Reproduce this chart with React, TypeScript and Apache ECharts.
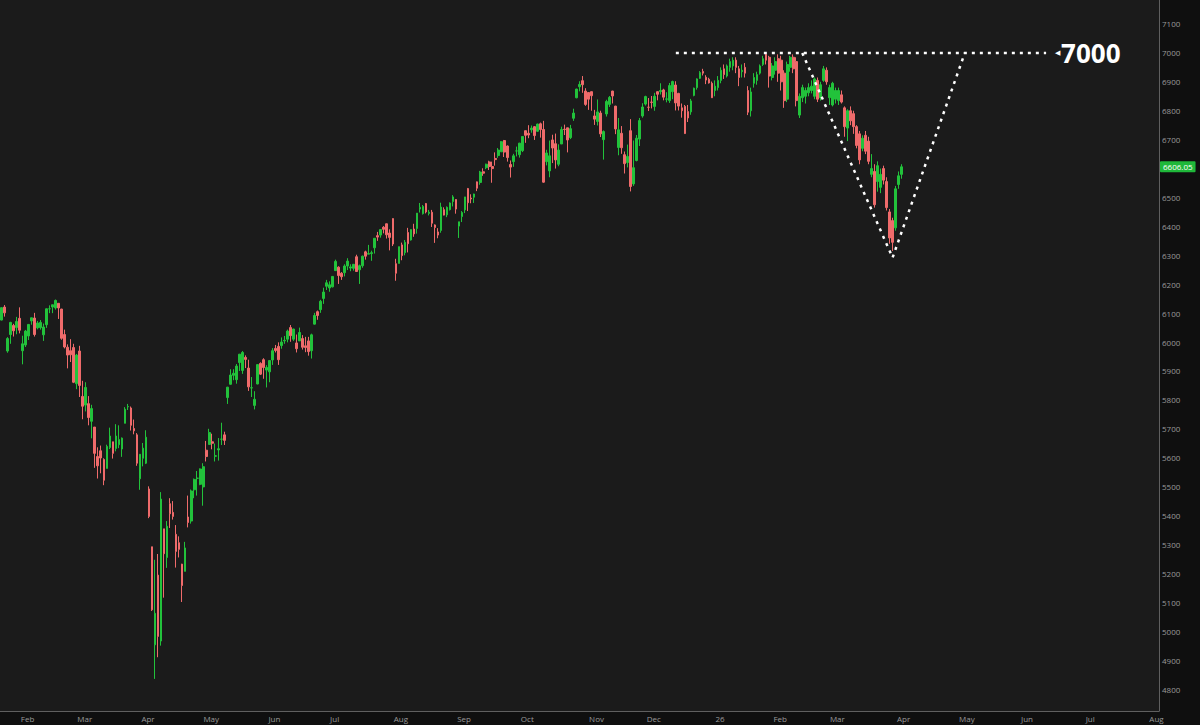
import React, { useEffect, useRef } from "react";
import * as echarts from "echarts";

// ---------- categories (trading days) ----------
const START_DATE = "2025-01-23";
const SLOT_COUNT = 385;
const MARKET_HOLIDAYS = [
  "2025-02-17", "2025-04-18", "2025-05-26", "2025-06-19", "2025-07-04", "2025-09-01",
  "2025-11-27", "2025-12-25", "2026-01-01", "2026-01-19", "2026-02-16", "2026-04-03",
  "2026-05-25", "2026-06-19", "2026-07-03",
];
const MONTHS = ["Jan", "Feb", "Mar", "Apr", "May", "Jun", "Jul", "Aug", "Sep", "Oct", "Nov", "Dec"];

// ---------- OHLC : [open, close, low, high] ----------
const jan2025 = [
  [6076, 6119, 6075, 6119], [6121, 6101, 6088, 6128], [5969, 6012, 5963, 6017], [6026, 6068, 5994, 6070],
  [6057, 6039, 6019, 6063], [6050, 6071, 6027, 6087], [6082, 6041, 6030, 6120],
];
const feb2025 = [
  [5970, 5994, 5923, 6022], [5990, 6038, 5983, 6042], [6021, 6061, 6007, 6062], [6073, 6084, 6060, 6084],
  [6083, 6026, 6019, 6101], [6049, 6066, 6044, 6073], [6050, 6068, 6043, 6076], [6025, 6052, 6004, 6064],
  [6060, 6115, 6049, 6116], [6115, 6115, 6100, 6127], [6121, 6129, 6100, 6129], [6118, 6144, 6112, 6147],
  [6134, 6118, 6080, 6135], [6114, 6013, 6008, 6115], [6026, 5983, 5978, 6043], [5982, 5955, 5909, 5992],
  [5970, 5956, 5931, 6010], [5981, 5861, 5858, 5994], [5856, 5955, 5837, 5959],
];
const mar2025 = [
  [5969, 5850, 5810, 5987], [5812, 5778, 5733, 5866], [5782, 5843, 5760, 5861], [5787, 5739, 5712, 5813],
  [5726, 5770, 5667, 5783], [5706, 5615, 5565, 5706], [5604, 5572, 5528, 5636], [5624, 5599, 5546, 5642],
  [5594, 5522, 5505, 5598], [5563, 5639, 5563, 5645], [5635, 5675, 5630, 5704], [5655, 5615, 5597, 5655],
  [5632, 5675, 5622, 5716], [5645, 5663, 5633, 5712], [5630, 5668, 5603, 5670], [5719, 5768, 5719, 5775],
  [5776, 5777, 5765, 5786], [5772, 5712, 5694, 5777], [5701, 5693, 5681, 5732], [5679, 5581, 5572, 5685],
  [5527, 5612, 5489, 5612],
];
const apr2025 = [
  [5598, 5633, 5570, 5651], [5581, 5671, 5578, 5695], [5492, 5397, 5391, 5501], [5292, 5074, 5070, 5292],
  [4953, 5062, 4835, 5247], [5194, 4982, 4910, 5267], [4966, 5457, 4950, 5481], [5354, 5268, 5116, 5354],
  [5255, 5363, 5219, 5381], [5441, 5406, 5357, 5460], [5411, 5397, 5386, 5450], [5335, 5276, 5220, 5367],
  [5306, 5283, 5255, 5328], [5232, 5158, 5101, 5233], [5207, 5288, 5207, 5309], [5395, 5376, 5359, 5469],
  [5381, 5485, 5372, 5490], [5489, 5525, 5460, 5528], [5529, 5529, 5469, 5554], [5508, 5561, 5505, 5563],
  [5499, 5569, 5434, 5581],
];
const may2025 = [
  [5626, 5604, 5587, 5658], [5646, 5687, 5645, 5700], [5655, 5650, 5629, 5683], [5605, 5607, 5587, 5649],
  [5627, 5631, 5590, 5668], [5664, 5664, 5644, 5721], [5679, 5660, 5644, 5690], [5808, 5844, 5786, 5845],
  [5854, 5886, 5853, 5906], [5885, 5892, 5868, 5906], [5870, 5917, 5856, 5924], [5929, 5958, 5900, 5959],
  [5902, 5964, 5890, 5969], [5947, 5940, 5910, 5954], [5910, 5845, 5831, 5939], [5841, 5842, 5810, 5879],
  [5781, 5802, 5767, 5830], [5855, 5922, 5854, 5922], [5926, 5889, 5886, 5930], [5939, 5912, 5873, 5944],
  [5903, 5912, 5843, 5920],
];
const jun2025 = [
  [5897, 5936, 5861, 5937], [5938, 5970, 5921, 5979], [5978, 5971, 5964, 5990], [5985, 5939, 5921, 5999],
  [5988, 6000, 5977, 6016], [6004, 6006, 5994, 6021], [6010, 6038, 5999, 6043], [6050, 6022, 6001, 6059],
  [6010, 6045, 6004, 6046], [5997, 5977, 5964, 6026], [6004, 6033, 6004, 6050], [6012, 5982, 5974, 6024],
  [5987, 5981, 5965, 6018], [6004, 5967, 5953, 6018], [5970, 6025, 5943, 6029], [6062, 6092, 6061, 6101],
  [6105, 6092, 6077, 6109], [6112, 6141, 6101, 6146], [6151, 6173, 6132, 6188], [6193, 6205, 6180, 6215],
];
const jul2025 = [
  [6187, 6198, 6174, 6210], [6191, 6227, 6189, 6228], [6247, 6279, 6247, 6285], [6259, 6230, 6201, 6262],
  [6238, 6226, 6215, 6242], [6240, 6263, 6227, 6269], [6263, 6280, 6249, 6290], [6256, 6260, 6245, 6269],
  [6255, 6269, 6247, 6270], [6295, 6244, 6244, 6302], [6250, 6264, 6201, 6268], [6264, 6297, 6257, 6299],
  [6312, 6297, 6285, 6316], [6304, 6306, 6304, 6336], [6306, 6309, 6281, 6316], [6326, 6359, 6306, 6359],
  [6368, 6363, 6350, 6381], [6370, 6389, 6361, 6390], [6397, 6390, 6376, 6401], [6409, 6371, 6358, 6410],
  [6377, 6362, 6317, 6390], [6427, 6339, 6332, 6428],
];
const aug2025 = [
  [6271, 6238, 6212, 6288], [6272, 6330, 6272, 6330], [6336, 6299, 6283, 6344], [6309, 6345, 6300, 6353],
  [6379, 6340, 6310, 6395], [6353, 6389, 6351, 6390], [6391, 6374, 6364, 6409], [6393, 6446, 6375, 6446],
  [6460, 6466, 6448, 6481], [6444, 6469, 6441, 6474], [6479, 6450, 6445, 6481], [6445, 6449, 6438, 6457],
  [6449, 6411, 6398, 6457], [6405, 6396, 6343, 6407], [6381, 6370, 6359, 6394], [6386, 6467, 6378, 6482],
  [6458, 6439, 6438, 6466], [6440, 6466, 6432, 6469], [6458, 6481, 6455, 6483], [6486, 6502, 6469, 6508],
  [6493, 6460, 6444, 6494],
];
const sep2025 = [
  [6401, 6416, 6360, 6416], [6434, 6448, 6415, 6453], [6457, 6502, 6446, 6502], [6531, 6482, 6453, 6533],
  [6498, 6495, 6480, 6511], [6501, 6512, 6481, 6513], [6554, 6532, 6522, 6555], [6552, 6588, 6544, 6592],
  [6589, 6584, 6575, 6601], [6603, 6615, 6598, 6617], [6623, 6607, 6595, 6627], [6607, 6600, 6551, 6624],
  [6635, 6631, 6610, 6656], [6645, 6664, 6637, 6671], [6658, 6693, 6658, 6695], [6697, 6657, 6640, 6699],
  [6678, 6638, 6624, 6680], [6614, 6605, 6569, 6628], [6624, 6644, 6606, 6651], [6661, 6661, 6642, 6676],
  [6648, 6688, 6638, 6689],
];
const oct2025 = [
  [6662, 6711, 6657, 6711], [6731, 6715, 6689, 6731], [6722, 6716, 6705, 6750], [6734, 6740, 6724, 6749],
  [6745, 6714, 6699, 6747], [6729, 6754, 6727, 6755], [6755, 6735, 6707, 6759], [6735, 6553, 6551, 6765],
  [6624, 6654, 6611, 6665], [6592, 6644, 6570, 6697], [6699, 6671, 6619, 6717], [6686, 6630, 6600, 6721],
  [6615, 6664, 6608, 6684], [6685, 6735, 6685, 6745], [6736, 6735, 6716, 6752], [6741, 6699, 6656, 6741],
  [6707, 6738, 6702, 6751], [6774, 6792, 6765, 6807], [6845, 6875, 6843, 6876], [6883, 6891, 6867, 6902],
  [6904, 6890, 6862, 6920], [6868, 6822, 6817, 6878], [6863, 6840, 6803, 6864],
];
const nov2025 = [
  [6866, 6852, 6800, 6866], [6782, 6771, 6751, 6803], [6763, 6796, 6749, 6839], [6792, 6720, 6709, 6800],
  [6700, 6728, 6631, 6732], [6789, 6832, 6780, 6838], [6822, 6846, 6813, 6851], [6868, 6851, 6825, 6869],
  [6816, 6737, 6719, 6817], [6673, 6734, 6646, 6775], [6722, 6672, 6651, 6747], [6648, 6617, 6583, 6659],
  [6621, 6642, 6604, 6683], [6731, 6538, 6521, 6771], [6547, 6603, 6540, 6697], [6628, 6705, 6625, 6716],
  [6702, 6766, 6678, 6775], [6782, 6813, 6776, 6826], [6823, 6849, 6818, 6852],
];
const dec2025 = [
  [6812, 6812, 6799, 6844], [6830, 6829, 6808, 6851], [6815, 6850, 6800, 6862], [6866, 6857, 6836, 6867],
  [6866, 6870, 6856, 6895], [6872, 6847, 6836, 6876], [6840, 6841, 6829, 6864], [6835, 6887, 6827, 6896],
  [6866, 6901, 6840, 6904], [6889, 6827, 6801, 6902], [6860, 6816, 6801, 6862], [6810, 6800, 6776, 6825],
  [6815, 6721, 6720, 6820], [6797, 6775, 6761, 6820], [6796, 6834, 6786, 6841], [6853, 6878, 6850, 6880],
  [6880, 6910, 6873, 6912], [6912, 6932, 6910, 6937], [6936, 6930, 6922, 6945], [6916, 6906, 6892, 6923],
  [6909, 6896, 6894, 6914], [6895, 6845, 6844, 6901],
];
const jan2026 = [
  [6870, 6885, 6850, 6905], [6880, 6905, 6870, 6920], [6905, 6940, 6895, 6950], [6945, 6925, 6910, 6960],
  [6920, 6955, 6915, 6960], [6950, 6970, 6935, 6980], [6955, 6975, 6940, 6985], [6975, 6950, 6930, 6985],
  [6945, 6915, 6885, 6955], [6935, 6940, 6915, 6960], [6950, 6930, 6915, 6965], [6870, 6795, 6785, 6885],
  [6800, 6865, 6780, 6880], [6895, 6915, 6880, 6930], [6905, 6925, 6890, 6935], [6930, 6955, 6925, 6960],
  [6960, 6980, 6955, 6990], [6995, 6975, 6960, 7002], [6985, 6920, 6880, 6990], [6915, 6955, 6905, 6965],
];
const feb2026 = [
  [6940, 6970, 6925, 6985], [6980, 6930, 6900, 6995], [6975, 6900, 6870, 6990], [6930, 6835, 6810, 6940],
  [6840, 6960, 6830, 6970], [6950, 6985, 6935, 6990], [6985, 6945, 6930, 6995], [6970, 6835, 6815, 6985],
  [6785, 6850, 6775, 6860], [6845, 6880, 6830, 6890], [6850, 6870, 6825, 6880], [6862, 6880, 6850, 6895],
  [6870, 6885, 6860, 6905], [6850, 6910, 6840, 6915], [6905, 6840, 6830, 6915], [6845, 6890, 6835, 6900],
  [6905, 6945, 6900, 6955], [6940, 6900, 6890, 6950], [6845, 6880, 6820, 6890],
];
const mar2026 = [
  [6820, 6895, 6815, 6900], [6840, 6870, 6825, 6880], [6835, 6870, 6820, 6880], [6855, 6830, 6825, 6870],
  [6810, 6745, 6710, 6815], [6740, 6800, 6695, 6805], [6800, 6765, 6750, 6815], [6790, 6745, 6720, 6800],
  [6745, 6680, 6670, 6750], [6720, 6630, 6615, 6730], [6670, 6705, 6660, 6715], [6715, 6660, 6650, 6730],
  [6695, 6625, 6615, 6710], [6580, 6600, 6570, 6650], [6590, 6475, 6465, 6615], [6555, 6610, 6520, 6625],
  [6535, 6580, 6515, 6600], [6600, 6560, 6545, 6610], [6555, 6465, 6455, 6570], [6450, 6360, 6340, 6460],
  [6420, 6345, 6315, 6430], [6395, 6530, 6385, 6540],
];
const apr2026 = [
  [6545, 6575, 6530, 6590], [6580, 6606.05, 6565, 6615],
];

const ohlc = [
  ...jan2025, ...feb2025, ...mar2025, ...apr2025, ...may2025, ...jun2025, ...jul2025, ...aug2025,
  ...sep2025, ...oct2025, ...nov2025, ...dec2025, ...jan2026, ...feb2026, ...mar2026, ...apr2026,
];

// ---------- axis / annotation values ----------
const Y_MIN = 4724;
const Y_MAX = 7183;
const yTicks = [4800, 4900, 5000, 5100, 5200, 5300, 5400, 5500, 5600, 5700, 5800, 5900, 6000,
  6100, 6200, 6300, 6400, 6500, 6600, 6700, 6800, 6900, 7000, 7100];
const targetLevel = 7000;
const targetLine = [["2025-12-12", 7000], ["2026-06-11", 7000]];
const vPattern = [["2026-02-13", 7000], ["2026-03-30", 6292], ["2026-05-04", 7000]];

const UP = "#22c23b";
const DOWN = "#ef6b6b";

function tradingDays(start: string, count: number, holidays: string[]) {
  const out: string[] = [];
  const d = new Date(start + "T00:00:00Z");
  while (out.length < count) {
    const dow = d.getUTCDay();
    const s = d.toISOString().slice(0, 10);
    if (dow !== 0 && dow !== 6 && holidays.indexOf(s) < 0) out.push(s);
    d.setUTCDate(d.getUTCDate() + 1);
  }
  return out;
}

export default function App() {
  const ref = useRef<HTMLDivElement>(null);
  useEffect(() => {
    document.body.style.margin = "0";
    const dates = tradingDays(START_DATE, SLOT_COUNT, MARKET_HOLIDAYS);
    const monthStart = new Set<number>();
    for (let i = 1; i < dates.length; i++) {
      if (dates[i].slice(5, 7) !== dates[i - 1].slice(5, 7)) monthStart.add(i);
    }
    const lastClose = ohlc[ohlc.length - 1][1];

    const chart = echarts.init(ref.current!, null, { renderer: "svg" });
    const dotted = { color: "#ffffff", width: 2.5, type: [3, 5] as number[] };
    chart.setOption({
      animation: false,
      backgroundColor: "#0f0f0f",
      grid: { left: 0, top: 0, right: 41, bottom: 14, show: true, backgroundColor: "#1b1b1b", borderWidth: 0 },
      xAxis: {
        type: "category",
        data: dates,
        boundaryGap: true,
        axisLine: { show: true, lineStyle: { color: "#5f5f5f", width: 1 } },
        axisTick: { show: false },
        splitLine: { show: false },
        axisLabel: {
          interval: (i: number) => monthStart.has(i),
          formatter: (v: string) => {
            const m = parseInt(v.slice(5, 7), 10) - 1;
            return m === 0 ? v.slice(2, 4) : MONTHS[m];
          },
          color: "#9a9a9a",
          fontSize: 8,
          fontFamily: "Open Sans",
          margin: 3,
          padding: [0, 0, 0, 10],
        },
      },
      yAxis: {
        type: "value",
        position: "right",
        min: Y_MIN,
        max: Y_MAX,
        axisLine: { show: true, lineStyle: { color: "#5f5f5f", width: 1 } },
        axisTick: { show: false },
        splitLine: { show: false },
        axisLabel: {
          customValues: yTicks,
          // the last-price tag covers the tick label beneath it, as in the reference
          formatter: (v: number) => (Math.abs(v - lastClose) < 30 ? "" : String(v)),
          color: "#9a9a9a",
          fontSize: 8,
          fontFamily: "Open Sans",
          margin: 3,
        },
      },
      series: [
        {
          type: "candlestick",
          data: ohlc,
          clip: false,
          barWidth: 2.2,
          itemStyle: { color: UP, color0: DOWN, borderColor: UP, borderColor0: DOWN, borderWidth: 1 },
          markLine: {
            silent: true,
            symbol: ["none", "none"],
            data: [{ yAxis: lastClose }],
            lineStyle: { color: "rgba(0,0,0,0)", width: 0, type: "solid" },
            label: {
              show: true,
              opacity: 1,
              position: "end",
              distance: 1,
              formatter: lastClose.toFixed(2),
              color: "#ffffff",
              backgroundColor: "#1fb83a",
              padding: [2, 3, 1, 3],
              borderRadius: 1,
              fontSize: 8,
              fontFamily: "Open Sans",
            },
          },
        },
        {
          type: "line",
          silent: true,
          symbol: "none",
          lineStyle: dotted,
          data: targetLine,
          endLabel: {
            show: true,
            distance: 9,
            formatter: `{a|◀}{b|${targetLevel}}`,
            rich: {
              a: { fontSize: 7, color: "#ffffff", padding: [0, 1, 0, 0] },
              b: { fontSize: 26, fontWeight: "bold", color: "#ffffff", fontFamily: "Open Sans" },
            },
          },
        },
        {
          type: "line",
          silent: true,
          symbol: "none",
          lineStyle: dotted,
          data: vPattern,
        },
      ],
    });
    return () => chart.dispose();
  }, []);
  return <div ref={ref} style={{ width: 1200, height: 725 }} />;
}
